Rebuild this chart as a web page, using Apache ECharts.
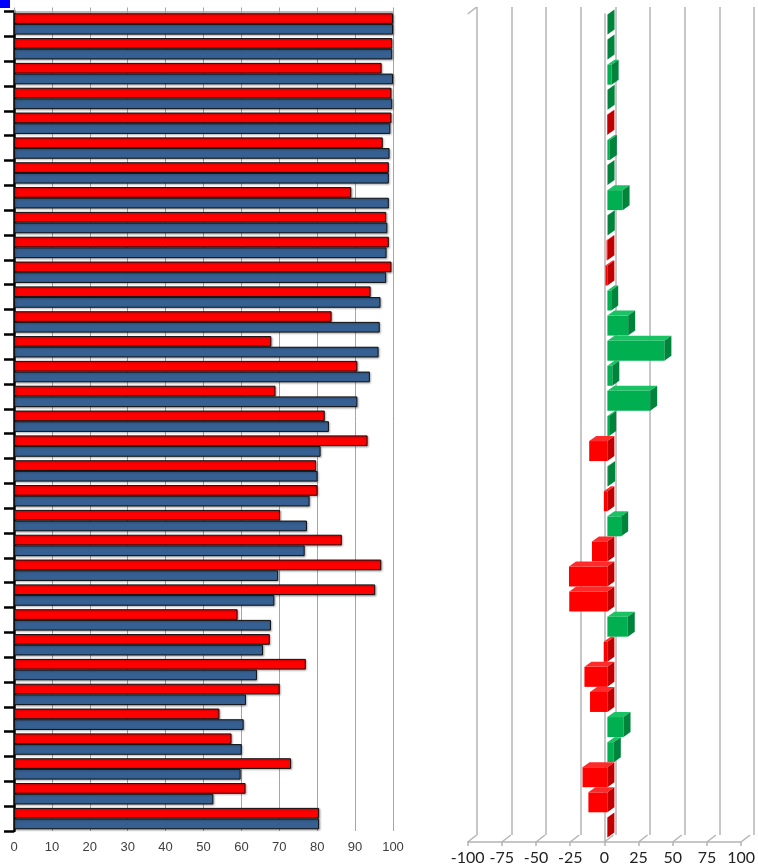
<!DOCTYPE html>
<html>
<head>
<meta charset="utf-8">
<title>chart</title>
<script src="https://cdn.jsdelivr.net/npm/echarts@6.0.0/dist/echarts.min.js"></script>
<style>
  html, body { margin: 0; padding: 0; background: #fff; }
  #chart { width: 758px; height: 868px; }
</style>
</head>
<body>
<div id="chart"></div>
<script>
// 分类 (图上没有名字, 用序号)
const categories = ['1', '2', '3', '4', '5', '6', '7', '8', '9', '10', '11', '12', '13', '14', '15', '16', '17',
  '18', '19', '20', '21', '22', '23', '24', '25', '26', '27', '28', '29', '30', '31', '32', '33']

// 左图: 红色和蓝色两组值
const redValues = [100, 99.8, 97.0, 99.6, 99.6, 97.3, 98.9, 89.0, 98.2, 98.9, 99.6, 94.1, 83.8, 67.9, 90.6, 69.0, 82.0,
  93.3, 79.7, 80.1, 70.2, 86.5, 96.9, 95.3, 59.0, 67.5, 77.0, 70.1, 54.2, 57.4, 73.1, 61.1, 80.5]
const blueValues = [100, 99.8, 100, 99.8, 99.3, 99.1, 98.9, 98.9, 98.5, 98.3, 98.2, 96.7, 96.5, 96.2, 93.9, 90.6, 83.1,
  80.9, 80.1, 78.0, 77.3, 76.7, 69.7, 68.7, 67.8, 65.7, 64.1, 61.2, 60.6, 60.1, 59.8, 52.6, 80.5]

// 右图: 变化百分比
const changeValues = [0.1, 0.1, 3.1, 0.2, -0.3, 1.8, 0.1, 11.1, 0.3, -0.6, -1.4, 2.8, 15.2, 41.7, 3.6, 31.3, 1.3,
  -13.3, 0.5, -2.6, 10.1, -11.3, -28.1, -27.9, 14.9, -2.7, -16.8, -12.7, 11.8, 4.7, -18.2, -13.9, -0.1]

// 刻度
const valueTicks = [0, 10, 20, 30, 40, 50, 60, 70, 80, 90, 100]
const changeTicks = [-100, -75, -50, -25, 0, 25, 50, 75, 100]

// 立体效果的偏移
const barDx = 7, barDy = -5, barShift = 3
const wallDx = 9, wallDy = -7
const wallColor = '#b4b4b4'

const chart = echarts.init(document.getElementById('chart'))

// 画立体柱子
function renderBar3d(params, api) {
  const cat = api.value(0)
  const val = api.value(1)
  const p0 = api.coord([0, cat])
  const p1 = api.coord([val, cat])
  const band = api.size([0, 1])[1]
  const h = 20
  const top = p0[1] - band / 2 + 0.5
  const xl = Math.min(p0[0], p1[0]) + barShift
  const xr = Math.max(p0[0], p1[0]) + barShift
  const green = val >= 0
  const front = green ? '#00b050' : '#ff0000'
  const lid = green ? '#19c263' : '#ff2a2a'
  const side = green ? '#00843c' : '#c00000'
  return {
    type: 'group',
    children: [
      { type: 'rect', shape: { x: xl, y: top, width: xr - xl, height: h }, style: { fill: front } },
      {
        type: 'polygon',
        shape: { points: [[xl, top], [xl + barDx, top + barDy], [xr + barDx, top + barDy], [xr, top]] },
        style: { fill: lid }
      },
      {
        type: 'polygon',
        shape: { points: [[xr, top], [xr + barDx, top + barDy], [xr + barDx, top + barDy + h], [xr, top + h]] },
        style: { fill: side }
      }
    ]
  }
}

// 画地板斜线和左墙顶
function renderFrame(params, api) {
  const band = api.size([0, 1])[1]
  const last = categories.length - 1
  const children = []
  changeTicks.forEach(t => {
    const p = api.coord([t, last])
    const y = p[1] + band / 2
    children.push({
      type: 'line',
      shape: { x1: p[0], y1: y, x2: p[0] + wallDx, y2: y + wallDy },
      style: { stroke: wallColor, lineWidth: 1.5 }
    })
  })
  const q = api.coord([changeTicks[0], 0])
  const yTop = q[1] - band / 2
  children.push({
    type: 'line',
    shape: { x1: q[0], y1: yTop, x2: q[0] + wallDx, y2: yTop + wallDy },
    style: { stroke: wallColor, lineWidth: 1.5 }
  })
  return { type: 'group', children }
}

const option = {
  animation: false,
  backgroundColor: '#fff',
  graphic: [
    { type: 'rect', left: 0, top: 0, shape: { width: 10, height: 8 }, style: { fill: '#0000ff' } }
  ],
  grid: [
    { left: 14, right: 365, top: 11.5, bottom: 37 },
    { left: 467.7, right: 13, top: 14, bottom: 26 },
    { left: 467.7 + wallDx, right: 13 - wallDx, top: 14 + wallDy, bottom: 26 - wallDy }
  ],
  xAxis: [
    {
      gridIndex: 0, type: 'value', min: 0, max: 100, interval: 10, position: 'bottom',
      axisLine: { show: false }, axisTick: { show: false },
      splitLine: { lineStyle: { color: '#a6a6a6', width: 1 } },
      axisLabel: { color: '#404040', fontSize: 13, fontFamily: 'Liberation Sans', margin: 10 }
    },
    {
      gridIndex: 0, type: 'value', min: 0, max: 100, interval: 10, position: 'top',
      axisLine: { show: true, lineStyle: { color: '#a6a6a6', width: 1.5 } },
      axisTick: { show: true, length: 4, lineStyle: { color: '#a6a6a6' } },
      axisLabel: { show: false }, splitLine: { show: false }
    },
    {
      gridIndex: 1, type: 'value', min: -100, max: 100, interval: 25, position: 'bottom',
      axisLine: { show: true, lineStyle: { color: wallColor, width: 1.5 } },
      axisTick: { show: true, length: 4, lineStyle: { color: wallColor, width: 1.5 } },
      splitLine: { show: false },
      axisLabel: { color: '#222', fontSize: 16, fontFamily: 'Lato', margin: 8 }
    },
    {
      gridIndex: 2, type: 'value', min: -100, max: 100, interval: 25,
      axisLine: { show: false }, axisTick: { show: false }, axisLabel: { show: false },
      splitLine: { show: true, lineStyle: { color: wallColor, width: 1.5 } }
    }
  ],
  yAxis: [
    {
      gridIndex: 0, type: 'category', data: categories, inverse: true, offset: 4,
      axisLine: { show: true, lineStyle: { color: '#000', width: 2.5 } },
      axisTick: { show: true, length: 10, lineStyle: { color: '#000', width: 2.5 } },
      axisLabel: { show: false }
    },
    {
      gridIndex: 1, type: 'category', data: categories, inverse: true,
      axisLine: { show: true, lineStyle: { color: wallColor, width: 1.5 } },
      axisTick: { show: false }, axisLabel: { show: false }
    },
    {
      gridIndex: 2, type: 'category', data: categories, inverse: true,
      axisLine: { show: false }, axisTick: { show: false }, axisLabel: { show: false }
    }
  ],
  series: [
    {
      type: 'bar', xAxisIndex: 0, yAxisIndex: 0, data: redValues,
      barGap: '0%', barCategoryGap: '14%',
      itemStyle: {
        color: '#ff0000', borderColor: '#111', borderWidth: 1,
        shadowColor: 'rgba(0,0,0,0.3)', shadowBlur: 2, shadowOffsetX: 1, shadowOffsetY: 1
      }
    },
    {
      type: 'bar', xAxisIndex: 0, yAxisIndex: 0, data: blueValues,
      barGap: '0%', barCategoryGap: '14%',
      itemStyle: {
        color: '#376092', borderColor: '#111', borderWidth: 1,
        shadowColor: 'rgba(0,0,0,0.3)', shadowBlur: 2, shadowOffsetX: 1, shadowOffsetY: 1
      }
    },
    {
      type: 'custom', xAxisIndex: 2, yAxisIndex: 1, renderItem: renderFrame,
      data: [[0, 0]], encode: { x: 1, y: 0 }, silent: true
    },
    {
      type: 'custom', xAxisIndex: 2, yAxisIndex: 1, renderItem: renderBar3d,
      data: changeValues.map((v, i) => [i, v]), encode: { x: 1, y: 0 }, z: 3
    }
  ]
}

chart.setOption(option)
</script>
</body>
</html>
